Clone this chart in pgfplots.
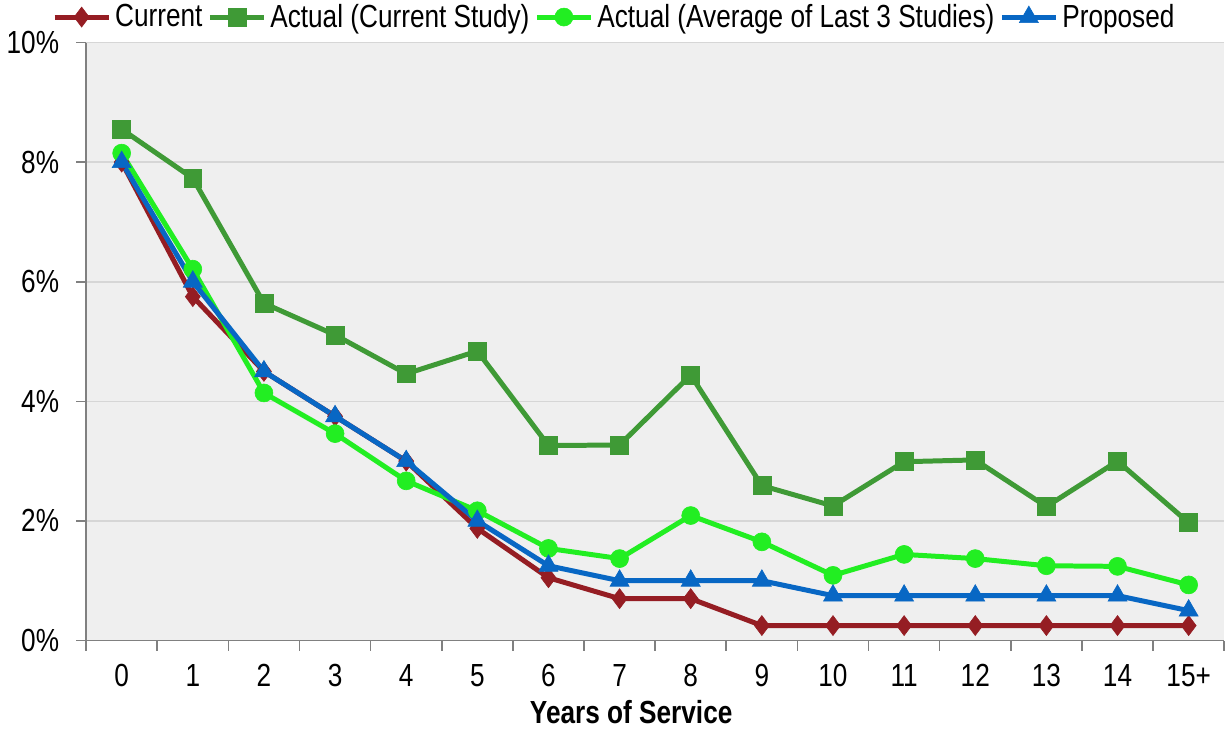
\documentclass[border=0pt]{standalone}
\usepackage{fontspec}
\setmainfont{Liberation Sans}[FakeStretch=0.82]
\usepackage{pgfplots}
\pgfplotsset{compat=1.18}
\definecolor{cur}{HTML}{951D23}
\definecolor{act}{HTML}{3F9A36}
\definecolor{avg}{HTML}{22EE22}
\definecolor{prop}{HTML}{0867C4}
\definecolor{bg}{HTML}{EFEFEF}
\definecolor{gridc}{HTML}{D6D6D6}
\definecolor{axc}{HTML}{808080}
\begin{document}
\begin{tikzpicture}
\begin{axis}[
  scale only axis, width=570pt, height=299.5pt,
  xmin=-0.5, xmax=15.5, ymin=0, ymax=10,
  axis x line*=bottom, axis y line*=left,
  axis line style={axc, line width=0.8pt, -},
  axis background/.style={fill=bg},
  xtick={0,...,15},
  xticklabels={0,1,2,3,4,5,6,7,8,9,10,11,12,13,14,15+},
  major x tick style={draw=none},
  minor xtick={-0.5,0.5,...,15.5},
  ytick={0,2,4,6,8,10},
  ymajorgrids, major grid style={gridc, line width=0.8pt},
  tick align=outside, major tick length=5pt, minor tick length=5pt,
  tick style={axc, line width=0.8pt},
  yticklabel={\pgfmathprintnumber{\tick}\%},
  yticklabel style={xshift=-5pt},
  xticklabel style={yshift=-3.5pt},
  /pgf/number format/assume math mode=true,
  font=\fontsize{16}{19}\selectfont,
  xlabel={\bfseries Years of Service},
  xlabel style={yshift=0.5pt, xshift=-12pt},
  legend columns=4,
  legend style={draw=none, fill=none, at={(0.465,1.0)}, anchor=south, yshift=4pt,
    font=\fontsize{16}{19}\selectfont, inner sep=0pt,
    /tikz/every even column/.append style={column sep=0.5pt}},
  legend image code/.code={\draw[mark repeat=2,mark phase=2] plot coordinates {(0pt,0pt)(13.5pt,0pt)(27pt,0pt)};},
]
\addplot[cur, line width=2.5pt, mark=diamond*, mark size=5pt, mark options={solid, line width=0.3pt, fill=cur}]
  coordinates {(0,8.0)(1,5.75)(2,4.5)(3,3.75)(4,3.0)(5,1.875)(6,1.05)(7,0.7)(8,0.7)(9,0.25)(10,0.25)(11,0.25)(12,0.25)(13,0.25)(14,0.25)(15,0.25)};
\addlegendentry{Current}
\addplot[act, line width=2.5pt, mark=square*, mark size=4.5pt, mark options={solid, line width=0.3pt, fill=act}]
  coordinates {(0,8.55)(1,7.73)(2,5.64)(3,5.11)(4,4.46)(5,4.84)(6,3.26)(7,3.27)(8,4.44)(9,2.59)(10,2.25)(11,2.99)(12,3.02)(13,2.24)(14,3.0)(15,1.97)};
\addlegendentry{Actual (Current Study)}
\addplot[avg, line width=2.5pt, mark=*, mark size=4.5pt, mark options={solid, line width=0.3pt, fill=avg}]
  coordinates {(0,8.15)(1,6.21)(2,4.14)(3,3.46)(4,2.67)(5,2.17)(6,1.54)(7,1.37)(8,2.09)(9,1.65)(10,1.09)(11,1.44)(12,1.37)(13,1.25)(14,1.24)(15,0.93)};
\addlegendentry{Actual (Average of Last 3 Studies)}
\addplot[prop, line width=2.5pt, mark=triangle*, mark size=5.5pt, mark options={solid, line width=0.3pt, fill=prop}]
  coordinates {(0,8.0)(1,6.0)(2,4.5)(3,3.75)(4,3.0)(5,2.0)(6,1.25)(7,1.0)(8,1.0)(9,1.0)(10,0.75)(11,0.75)(12,0.75)(13,0.75)(14,0.75)(15,0.5)};
\addlegendentry{Proposed}
\end{axis}
\end{tikzpicture}
\end{document}
